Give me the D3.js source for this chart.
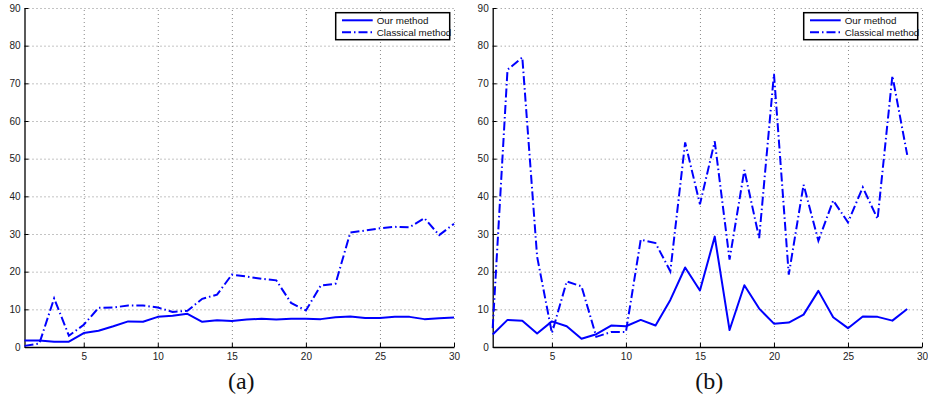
<!DOCTYPE html>
<html>
<head>
<meta charset="utf-8">
<script src="https://cdn.jsdelivr.net/npm/d3@7"></script>
<style>
  body { margin: 0; background: #fff; }
  svg text { font-family: "Liberation Sans", Arial, sans-serif; }
</style>
</head>
<body>
<svg id="chart" width="928" height="400"></svg>
<script>
// values
const runsA = d3.range(1, 31);
const ourA = [1.7, 1.7, 1.4, 1.4, 3.7, 4.3, 5.5, 6.8, 6.7, 8.0, 8.3, 8.8, 6.7, 7.1, 6.9,
  7.3, 7.5, 7.3, 7.5, 7.5, 7.4, 7.9, 8.1, 7.7, 7.7, 8.0, 8.0, 7.4, 7.6, 7.8];
const classicA = [0.3, 0.9, 12.9, 3.0, 5.9, 10.4, 10.5, 11.0, 11.0, 10.5, 9.3, 9.6, 12.8, 13.9, 19.2,
  18.7, 18.1, 17.7, 11.7, 9.7, 16.3, 16.8, 30.4, 30.9, 31.5, 31.9, 31.8, 34.2, 29.7, 32.7];

const runsB = d3.range(1, 30);
const ourB = [3.3, 7.2, 7.0, 3.6, 6.8, 5.5, 2.2, 3.4, 5.7, 5.5, 7.2, 5.7, 12.5, 21.1, 15.0,
  29.3, 4.5, 16.4, 10.2, 6.2, 6.5, 8.6, 14.9, 7.9, 5.0, 8.1, 8.0, 7.0, 10.1];
const classicB = [5.0, 73.6, 76.9, 24.0, 3.7, 17.4, 16.1, 2.7, 4.0, 4.0, 28.5, 27.6, 20.1, 54.3, 37.9,
  54.6, 23.2, 47.0, 28.9, 72.5, 19.2, 43.1, 28.2, 38.9, 33.1, 42.4, 34.0, 72.0, 51.0];

const xTicks = [5, 10, 15, 20, 25, 30];
const yTicks = [0, 10, 20, 30, 40, 50, 60, 70, 80, 90];
const seriesNames = ["Our method", "Classical method"];

const blue = "#0000ff";
const dashDot = "9,3,1.5,3";
const svg = d3.select("#chart");

function panel(left, right, runs, ours, classic, caption) {
  const top = 8, bottom = 347;
  const x = d3.scaleLinear().domain([1, 30]).range([left, right]);
  const y = d3.scaleLinear().domain([0, 90]).range([bottom, top]);
  const g = svg.append("g");

  // dotted grid
  g.append("g")
    .attr("transform", `translate(0,${bottom})`)
    .call(d3.axisBottom(x).tickValues(xTicks).tickSize(-(bottom - top)).tickFormat(""))
    .call(a => a.select(".domain").remove())
    .selectAll("line").attr("stroke", "#888").attr("stroke-dasharray", "1,3");
  g.append("g")
    .attr("transform", `translate(${left},0)`)
    .call(d3.axisLeft(y).tickValues(yTicks.slice(1)).tickSize(-(right - left)).tickFormat(""))
    .call(a => a.select(".domain").remove())
    .selectAll("line").attr("stroke", "#888").attr("stroke-dasharray", "1,3");

  // axes with inward ticks
  const xa = g.append("g")
    .attr("transform", `translate(0,${bottom})`)
    .call(d3.axisBottom(x).tickValues(xTicks).tickSizeInner(-4).tickSizeOuter(0).tickPadding(6));
  const ya = g.append("g")
    .attr("transform", `translate(${left},0)`)
    .call(d3.axisLeft(y).tickValues(yTicks).tickSizeInner(-4).tickSizeOuter(0).tickPadding(4));
  [xa, ya].forEach(a => {
    a.select(".domain").attr("stroke", "#000").attr("stroke-width", 1.3);
    a.selectAll(".tick line").attr("stroke", "#000");
    a.selectAll(".tick text").attr("font-size", 10).attr("fill", "#222")
      .attr("font-family", "Liberation Sans, Arial, sans-serif");
  });

  const line = d3.line().x((d, i) => x(runs[i])).y(d => y(d));
  g.append("path").datum(classic).attr("d", line)
    .attr("fill", "none").attr("stroke", blue).attr("stroke-width", 2)
    .attr("stroke-dasharray", dashDot);
  g.append("path").datum(ours).attr("d", line)
    .attr("fill", "none").attr("stroke", blue).attr("stroke-width", 2)
    .attr("stroke-linejoin", "round");

  // legend
  const lx = right - 118.3, ly = 12.7;
  const leg = g.append("g").attr("transform", `translate(${lx},${ly})`);
  leg.append("rect").attr("width", 114).attr("height", 27)
    .attr("fill", "#fff").attr("stroke", "#000").attr("stroke-width", 1.5);
  seriesNames.forEach((name, i) => {
    const yy = 7.6 + i * 12;
    leg.append("line").attr("x1", 6.3).attr("x2", 37).attr("y1", yy).attr("y2", yy)
      .attr("stroke", blue).attr("stroke-width", 2)
      .attr("stroke-dasharray", i === 1 ? dashDot : null);
    leg.append("text").attr("x", 41).attr("y", yy + 3.5)
      .attr("font-size", 9.8).attr("fill", "#111").text(name);
  });

  svg.append("text")
    .attr("x", (left + right) / 2 + 2).attr("y", 389)
    .attr("text-anchor", "middle")
    .style("font-family", "'Liberation Serif', 'DejaVu Serif', serif")
    .attr("font-size", 24).attr("fill", "#111")
    .text(caption);
}

panel(24.5, 454, runsA, ourA, classicA, "(a)");
panel(492.7, 922, runsB, ourB, classicB, "(b)");
</script>
</body>
</html>
